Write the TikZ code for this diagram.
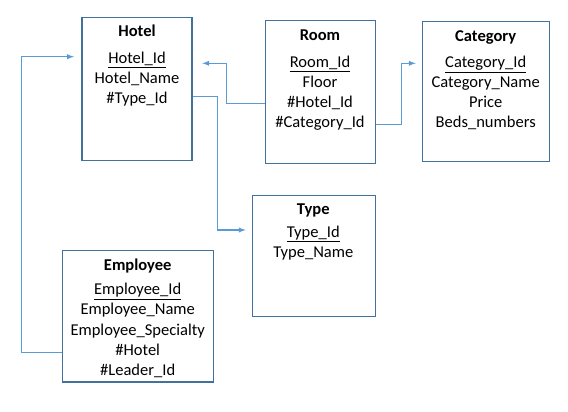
\documentclass[tikz,border=0pt]{standalone}
\usepackage{fontspec}
\setmainfont{Carlito}
\definecolor{boxblue}{RGB}{65,113,156}
\definecolor{linkblue}{RGB}{91,155,213}
\tikzset{
    table/.style={draw=boxblue, line width=0.9pt, inner sep=0pt},
    field/.style={inner sep=0pt, text height=8pt, text depth=0pt, font=\fontsize{12.4}{15}\selectfont},
    title/.style={field, font=\fontsize{12.4}{15}\selectfont\bfseries},
    link/.style={linkblue, line width=0.8pt, -latex}
}
\begin{document}
\begin{tikzpicture}[x=0.75pt, y=-0.75pt]
    \useasboundingbox (0, 0) rectangle (568, 411);

    \draw node[table, minimum width=82.5pt, minimum height=107.25pt] (hotel) at (137, 88.6) {}
        node[title] at (137, 30.7) {Hotel}
        node[field] (hid) at (137, 58.3) {\underline{Hotel\_Id}}
        node[field] at (137, 78.3) {Hotel\_Name}
        node[field] (htid) at (137, 98.3) {\#Type\_Id}
        node[table, minimum width=82.5pt, minimum height=107.25pt] (room) at (320.3, 92) {}
        node[title] at (320, 35) {Room}
        node[field] at (320, 61.7) {\underline{Room\_Id}}
        node[field] at (320, 81.7) {Floor}
        node[field] (rhid) at (320, 101.7) {\#Hotel\_Id}
        node[field] (rcid) at (320, 121.7) {\#Category\_Id}
        node[table, minimum width=95.25pt, minimum height=104.5pt] (category) at (485.8, 91.5) {}
        node[title] at (485.7, 36) {Category}
        node[field] at (485.7, 62) {\underline{Category\_Id}}
        node[field] at (485.7, 82) {Category\_Name}
        node[field] at (485.7, 101.7) {Price}
        node[field] at (485.7, 122) {Beds\_numbers}
        node[table, minimum width=92.5pt, minimum height=90.75pt] (type) at (314, 255.8) {}
        node[title] at (313.3, 209) {Type}
        node[field] at (313.3, 231.7) {\underline{Type\_Id}}
        node[field] at (313.3, 251.7) {Type\_Name}
        node[table, minimum width=113.25pt, minimum height=98.5pt] (employee) at (137.8, 316.3) {}
        node[title] at (137.7, 265) {Employee}
        node[field] at (137.7, 289.3) {\underline{Employee\_Id}}
        node[field] at (137.7, 309.3) {Employee\_Name}
        node[field] at (137.7, 329.7) {Employee\_Specialty}
        node[field] (ehot) at (137.7, 350) {\#Hotel}
        node[field] at (137.7, 370) {\#Leader\_Id}
        coordinate (hoteltip) at (202.3, 63.3)
        coordinate (cattip) at (415.7, 63.3)
        coordinate (typetip) at (245.7, 230)
        coordinate (hotelleft) at (74, 56.7);

    % \foreach \x in {0, 50, ..., 550}
    %     \draw[gray!30] (\x, 0) -- (\x, 411);

    \draw[link] ([yshift=-1.2pt]room.west |- rhid) -- ++(-38.6, 0) |- (hoteltip);
    \draw[link] ([yshift=-2pt]room.east |- rcid) -- ++(25.4, 0) |- (cattip);
    \draw[link] ([yshift=1.2pt]hotel.east |- htid) -- ++(24.7, 0) |- (typetip);
    \draw[link] ([yshift=-1.7pt]employee.west |- ehot) -- ++(-40.6, 0) |- (hotelleft);
\end{tikzpicture}
\end{document}
